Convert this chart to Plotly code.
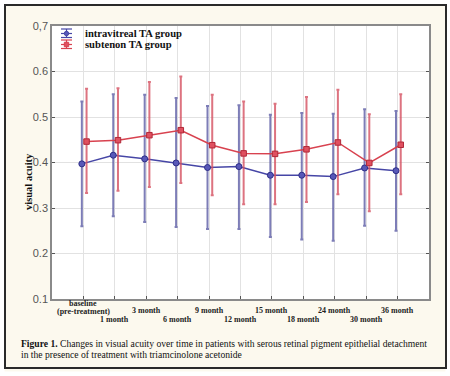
import plotly.graph_objects as go

categories = ["baseline\n(pre-treatment)", "1 month", "3 month", "6 month", "9 month",
              "12 month", "15 month", "18 month", "24 month", "30 month", "36 month"]

intra_mean = [0.397, 0.416, 0.408, 0.399, 0.389, 0.391, 0.372, 0.372, 0.369, 0.388, 0.382]
intra_upper = [0.534, 0.550, 0.549, 0.542, 0.524, 0.526, 0.505, 0.509, 0.507, 0.517, 0.513]
intra_lower = [0.260, 0.282, 0.269, 0.258, 0.254, 0.254, 0.236, 0.231, 0.228, 0.261, 0.250]

sub_mean = [0.446, 0.449, 0.460, 0.471, 0.438, 0.420, 0.419, 0.429, 0.444, 0.399, 0.439]
sub_upper = [0.562, 0.563, 0.577, 0.589, 0.549, 0.534, 0.529, 0.544, 0.560, 0.506, 0.550]
sub_lower = [0.333, 0.338, 0.346, 0.355, 0.328, 0.308, 0.308, 0.313, 0.330, 0.293, 0.330]

series_names = ["intravitreal TA group", "subtenon TA group"]
y_ticks = [0.1, 0.2, 0.3, 0.4, 0.5, 0.6, 0.7]
y_tick_text = ["0.1", "0.2", "0.3", "0.4", "0.5", "0.6", "0,7"]

caption_bold = "Figure 1."
caption_line1 = " Changes in visual acuity over time in patients with serous retinal pigment epithelial detachment"
caption_line2 = "in the presence of treatment with triamcinolone acetonide"

W, H = 450, 376
L, R, T, B = 52, 21, 26, 77
pw, ph = W - L - R, H - T - B


def px_x(x):
    return (x - L) / pw


def px_y(y):
    return (H - B - y) / ph


BLUE = "#4646a6"
BLUE_ERR = "rgba(92,92,165,0.8)"
RED = "#d8424f"
RED_ERR = "rgba(212,80,96,0.8)"
SERIF = "Liberation Serif"

idx = list(range(len(categories)))
fig = go.Figure()

fig.add_trace(go.Scatter(
    x=[i - 0.05 for i in idx], y=intra_mean, mode="lines+markers", name=series_names[0],
    line=dict(color=BLUE, width=1.5),
    marker=dict(symbol="circle", size=6, color="#5858b8", line=dict(color="#2e2e88", width=1)),
    error_y=dict(type="data", symmetric=False,
                 array=[u - m for u, m in zip(intra_upper, intra_mean)],
                 arrayminus=[m - l for m, l in zip(intra_mean, intra_lower)],
                 color=BLUE_ERR, thickness=2, width=1.5),
    showlegend=False,
))
fig.add_trace(go.Scatter(
    x=[i + 0.1 for i in idx], y=sub_mean, mode="lines+markers", name=series_names[1],
    line=dict(color=RED, width=1.5),
    marker=dict(symbol="square", size=5.5, color="#e05060", line=dict(color="#b02838", width=1)),
    error_y=dict(type="data", symmetric=False,
                 array=[u - m for u, m in zip(sub_upper, sub_mean)],
                 arrayminus=[m - l for m, l in zip(sub_mean, sub_lower)],
                 color=RED_ERR, thickness=2, width=1.5),
    showlegend=False,
))

shapes = []
annotations = []

# outer frame
shapes.append(dict(type="rect", xref="paper", yref="paper",
                   x0=px_x(0), x1=px_x(W), y0=px_y(H), y1=px_y(0),
                   line=dict(color="white", width=9), fillcolor="rgba(0,0,0,0)", layer="below"))
shapes.append(dict(type="rect", xref="paper", yref="paper",
                   x0=px_x(5), x1=px_x(446), y0=px_y(368), y1=px_y(5),
                   line=dict(color="#2a2a2a", width=2), fillcolor="rgba(0,0,0,0)", layer="below"))

# legend (custom)
leg_colors = [(BLUE, "#5858b8", "circle"), (RED, "#e05060", "rect")]
for k, (name, (lc, mc, sym)) in enumerate(zip(series_names, leg_colors)):
    cy = 33.5 + k * 11
    for dy in (-4.5, 0, 4):
        shapes.append(dict(type="line", xref="paper", yref="paper",
                           x0=px_x(61), x1=px_x(72), y0=px_y(cy + dy), y1=px_y(cy + dy),
                           line=dict(color=lc, width=1.2)))
    shapes.append(dict(type="line", xref="paper", yref="paper",
                       x0=px_x(66.5), x1=px_x(66.5), y0=px_y(cy - 4.5), y1=px_y(cy + 4),
                       line=dict(color=lc, width=1.2)))
    shapes.append(dict(type=sym, xref="paper", yref="paper",
                       x0=px_x(64.3), x1=px_x(68.7), y0=px_y(cy + 2.2), y1=px_y(cy - 2.2),
                       line=dict(color=lc, width=1), fillcolor=mc))
    annotations.append(dict(text="<b>" + name + "</b>", xref="paper", yref="paper",
                            x=px_x(83), y=px_y(cy), xanchor="left", yanchor="middle",
                            showarrow=False, font=dict(family=SERIF, size=10.6, color="#111")))

# x labels (staggered)
for i, lab in enumerate(categories):
    parts = lab.split("\n")
    if len(parts) == 2:
        for j, p in enumerate(parts):
            annotations.append(dict(text="<b>" + p + "</b>", x=i, xref="x", yref="paper", y=0,
                                    yshift=-(303 + 8.5 * j - (H - B)), xanchor="center",
                                    yanchor="middle", showarrow=False,
                                    font=dict(family=SERIF, size=8, color="#222")))
    else:
        cy = 310 if i % 2 == 0 else 319.5
        annotations.append(dict(text="<b>" + lab + "</b>", x=i, xref="x", yref="paper", y=0,
                                yshift=-(cy - (H - B)), xanchor="center", yanchor="middle",
                                showarrow=False, font=dict(family=SERIF, size=8, color="#222")))

# y title
annotations.append(dict(text="<b>visual acuity</b>", xref="paper", yref="paper",
                        x=px_x(28), y=px_y(182), textangle=-90, xanchor="center", yanchor="middle",
                        showarrow=False, font=dict(family=SERIF, size=10.5, color="#111")))

# caption
annotations.append(dict(text="<b>" + caption_bold + "</b>" + caption_line1, xref="paper", yref="paper",
                        x=px_x(19), y=px_y(343), xanchor="left", yanchor="middle", showarrow=False,
                        font=dict(family=SERIF, size=9.6, color="#111")))
annotations.append(dict(text=caption_line2, xref="paper", yref="paper",
                        x=px_x(19), y=px_y(354.5), xanchor="left", yanchor="middle", showarrow=False,
                        font=dict(family=SERIF, size=9.6, color="#111")))

fig.update_layout(
    width=W, height=H,
    margin=dict(l=L, r=R, t=T, b=B, pad=0),
    paper_bgcolor="#fcf9ee",
    plot_bgcolor="white",
    shapes=shapes,
    annotations=annotations,
    xaxis=dict(range=[-1, 11], tickmode="array", tickvals=idx, showticklabels=False,
               showgrid=True, gridcolor="#e2e2e2", gridwidth=1, zeroline=False,
               showline=True, linecolor="#8a8a8a", linewidth=1.5, mirror=True,
               ticks="inside", ticklen=3, tickcolor="#555"),
    yaxis=dict(range=[0.1, 0.7], tickmode="array", tickvals=y_ticks, ticktext=y_tick_text,
               showgrid=True, gridcolor="#e2e2e2", gridwidth=1, zeroline=False,
               showline=True, linecolor="#8a8a8a", linewidth=1.5, mirror="ticks",
               ticks="inside", ticklen=3, tickcolor="#555",
               tickfont=dict(family="Liberation Sans", size=11, color="#555")),
)

fig.write_html("out.html", config={"displayModeBar": False},
               post_script="document.body.style.margin='0';document.body.style.overflow='hidden';")
